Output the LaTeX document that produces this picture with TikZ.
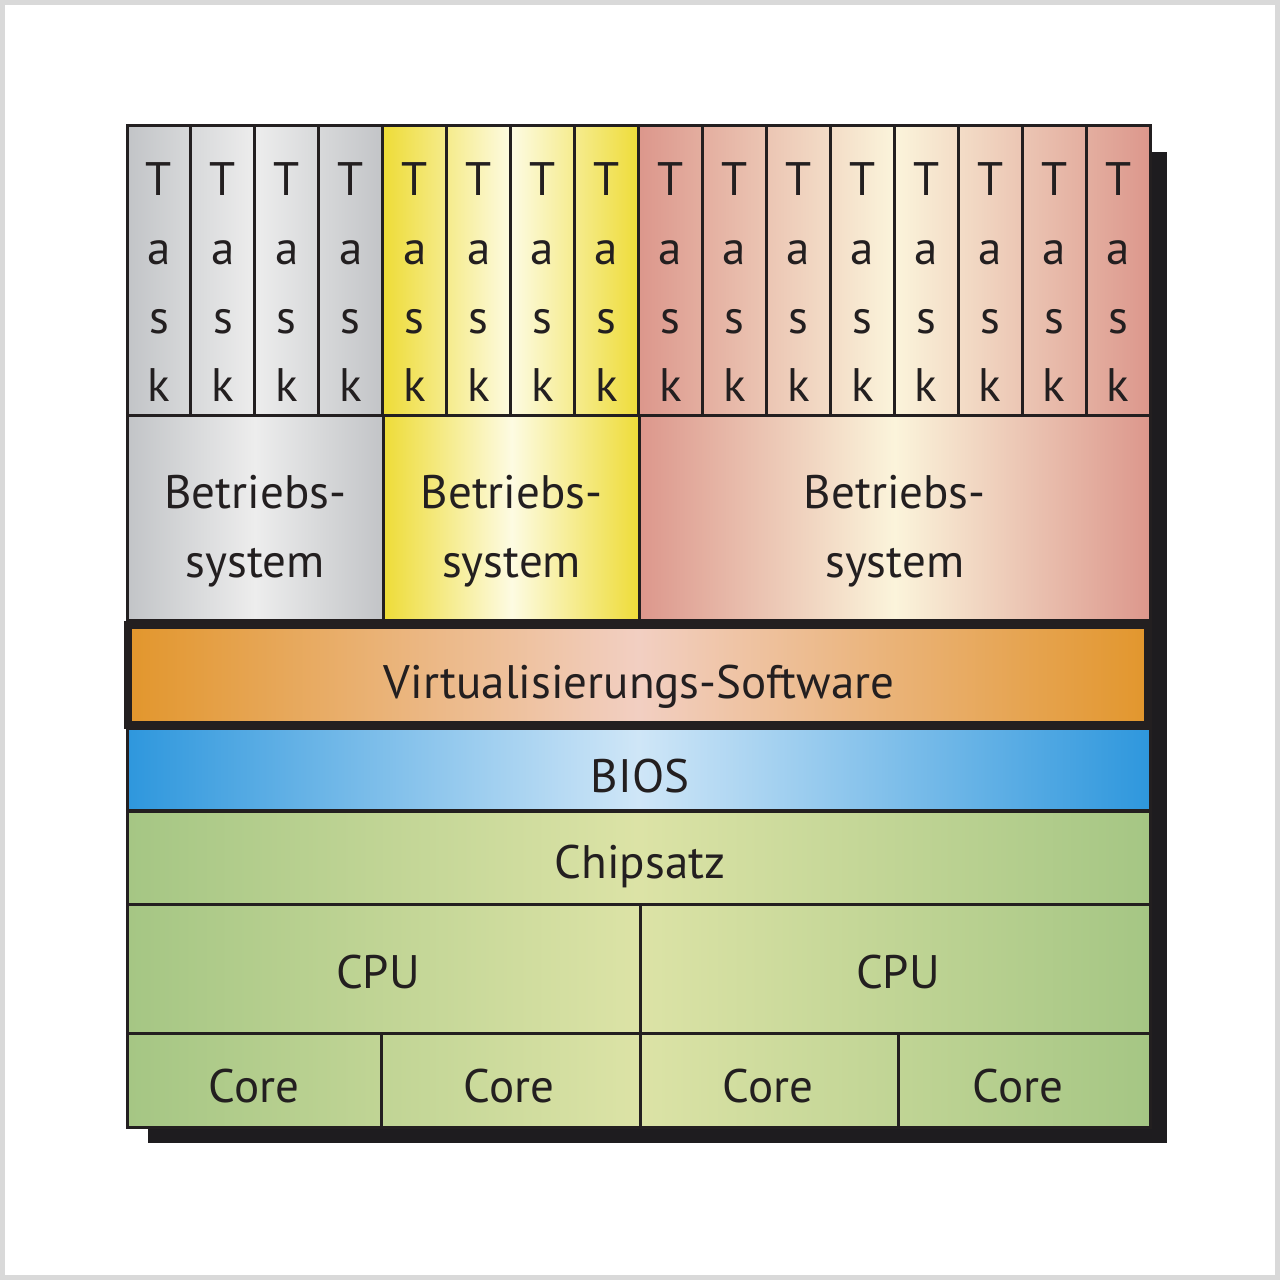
\documentclass[tikz,border=0pt]{standalone}
\usepackage{fontspec}
\setmainfont{PT Sans}
\definecolor{framegray}{HTML}{D9D9D9}
\definecolor{shadowc}{HTML}{1E1C1F}
\definecolor{linec}{HTML}{231F20}
\definecolor{txt}{HTML}{231F20}
\definecolor{grayE}{HTML}{C2C4C7}
\definecolor{grayC}{HTML}{EDEDED}
\definecolor{yelE}{HTML}{EEDC38}
\definecolor{yelC}{HTML}{FDFBE2}
\definecolor{redE}{HTML}{DC978C}
\definecolor{redC}{HTML}{FBF4DB}
\definecolor{oraE}{HTML}{E2962C}
\definecolor{oraC}{HTML}{F2CFC2}
\definecolor{bluE}{HTML}{2E97DD}
\definecolor{bluC}{HTML}{CFE6F7}
\definecolor{grnE}{HTML}{A5C684}
\definecolor{grnC}{HTML}{DCE3A6}
\tikzset{
  lbl/.style={inner sep=0pt, text=txt, font=\fontsize{47}{69}\selectfont},
  cell/.style={draw=linec, line width=3pt, inner sep=0pt, rectangle},
  rule/.style={draw=linec, line width=3pt},
}
\begin{document}
\begin{tikzpicture}[x=1pt,y=-1pt]
\useasboundingbox (0,0) rectangle (1280,1280);
\fill[framegray] (0,0) rectangle (1280,1280);
\fill[white] (5,5) rectangle (1275,1275);
% shadow
\fill[shadowc] (148,152) rectangle (1167,1143);
% group shadings
\shade[left color=grayE, right color=grayE, middle color=grayC] (127,125) rectangle (383.8,620);
\shade[left color=yelE, right color=yelE, middle color=yelC] (383.8,125) rectangle (639.5,620);
\shade[left color=redE, right color=redE, middle color=redC] (639.5,125) rectangle (1150,620);
\shade[left color=oraE, right color=oraE, middle color=oraC] (127,620) rectangle (1150,727);
\shade[left color=bluE, right color=bluE, middle color=bluC] (127,727) rectangle (1150,811);
\shade[left color=grnE, right color=grnE, middle color=grnC] (127,811) rectangle (1150,1127);
% task columns
\foreach \i in {0,...,15}{
  \pgfmathsetmacro\xc{127+63.9375*(\i+0.5)}
  \node[cell, minimum width=63.94pt, minimum height=290pt] (task\i) at (\xc,270) {};
  \node[lbl, anchor=base] (tT\i) at (\xc,195) {T};
  \node[lbl, anchor=base] (ta\i) at (\xc,264) {a};
  \node[lbl, anchor=base] (ts\i) at (\xc,333) {s};
  \node[lbl, anchor=base] (tk\i) at (\xc,401) {k};
}
% operating systems
\node[cell, minimum width=256.75pt, minimum height=205pt] (os1) at (255.4,517.5) {};
\node[cell, minimum width=255.75pt, minimum height=205pt] (os2) at (511.6,517.5) {};
\node[cell, minimum width=510.5pt, minimum height=205pt] (os3) at (894.75,517.5) {};
\node[lbl, align=center] (os1t) at (255.4,531) {Betriebs-\\system};
\node[lbl, align=center] (os2t) at (511.6,531) {Betriebs-\\system};
\node[lbl, align=center] (os3t) at (894.75,531) {Betriebs-\\system};
% virtualisation
\node[draw=linec, line width=8pt, inner sep=0pt, minimum width=1020pt, minimum height=100pt] (virt) at (638,675) {};
\node[lbl, anchor=base] (virtt) at (639,698) {Virtualisierungs-Software};
% BIOS
\node[cell, minimum width=1023pt, minimum height=82pt] (bios) at (638.5,769) {};
\node[lbl, anchor=base] (biost) at (640,792) {BIOS};
% Chipsatz
\node[cell, minimum width=1023pt, minimum height=93pt] (chip) at (638.5,857.5) {};
\node[lbl, anchor=base] (chipt) at (640,878) {Chipsatz};
% CPUs
\node[cell, minimum width=513pt, minimum height=129pt] (cpu1) at (383.5,968.5) {};
\node[cell, minimum width=510pt, minimum height=129pt] (cpu2) at (895,968.5) {};
\node[lbl, anchor=base] (cpu1t) at (378,988) {CPU};
\node[lbl, anchor=base] (cpu2t) at (898,988) {CPU};
% Cores
\node[cell, minimum width=254pt, minimum height=94pt] (core1) at (254,1080) {};
\node[cell, minimum width=259pt, minimum height=94pt] (core2) at (510.5,1080) {};
\node[cell, minimum width=258pt, minimum height=94pt] (core3) at (769,1080) {};
\node[cell, minimum width=252pt, minimum height=94pt] (core4) at (1024,1080) {};
\node[lbl, anchor=base] (core1t) at (254,1102) {Core};
\node[lbl, anchor=base] (core2t) at (509,1102) {Core};
\node[lbl, anchor=base] (core3t) at (768,1102) {Core};
\node[lbl, anchor=base] (core4t) at (1018,1102) {Core};
% outer outline
\draw[rule] (127,125) rectangle (1150,1127);
\end{tikzpicture}
\end{document}
